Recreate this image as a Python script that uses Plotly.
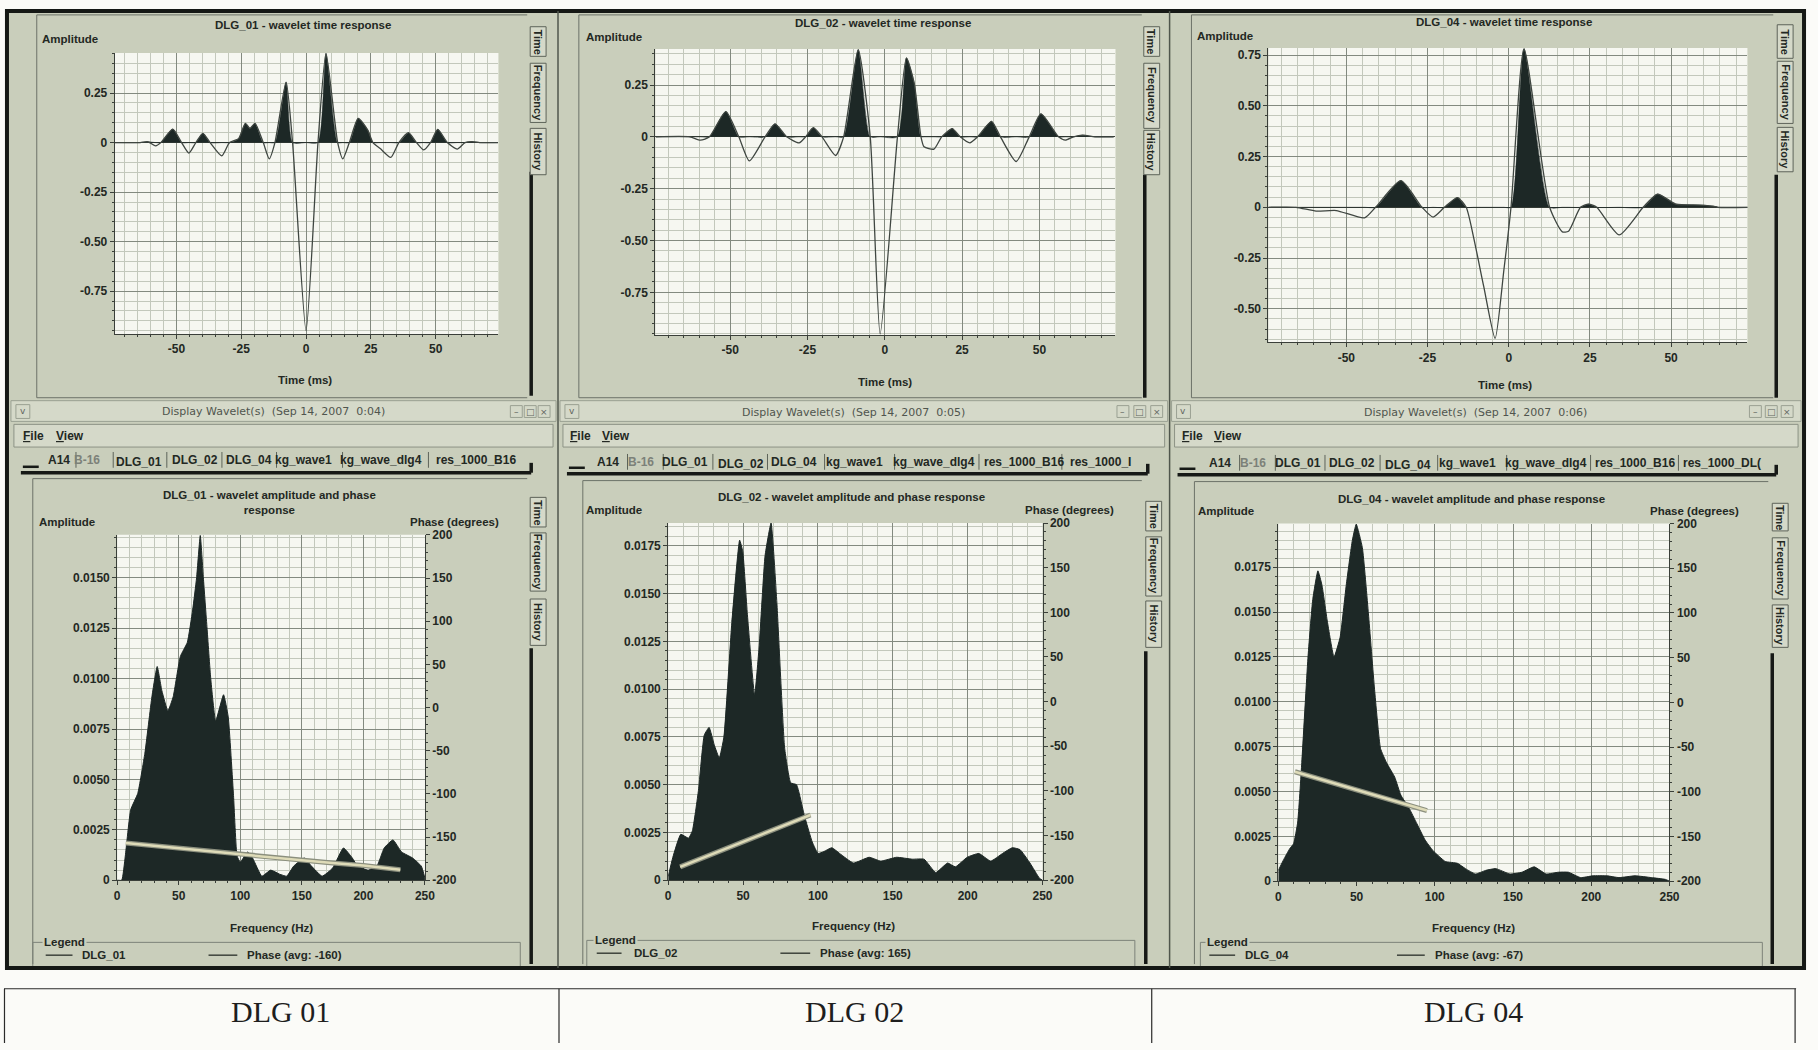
import numpy as np
import plotly.graph_objects as go

W, H = 1818, 1050

# ------------------------------------------------------------------ data
time_titles = ["DLG_01 - wavelet time response",
               "DLG_02 - wavelet time response",
               "DLG_04 - wavelet time response"]

t_dlg01 = [-74, -64, -61, -58, -56, -51.4, -48, -45.2, -42.5, -39.8, -37, -32.5, -29.5, -26,
           -23.4, -21.6, -19.7, -16.5, -14.2, -12, -7.7, -5.2, 0, 4.6, 7.7, 12.2, 14.2, 16.7,
           20.1, 23.8, 25.8, 28.6, 32.7, 35.8, 39.5, 42.6, 45.4, 48, 50.8, 54.5, 58.3, 61.3,
           64, 67, 74]
amp_dlg01 = [0, 0, 0.004, -0.017, 0, 0.068, 0, -0.053, 0, 0.047, 0, -0.067, 0, 0.02,
             0.097, 0.072, 0.097, 0, -0.082, 0, 0.305, 0, -0.95, 0, 0.45, 0, -0.082, 0,
             0.122, 0.063, 0, -0.03, -0.075, 0, 0.05, 0, -0.037, 0, 0.067, 0, -0.033, 0,
             0.005, 0, 0]

t_dlg02 = [-74, -63, -59.6, -56.7, -51.4, -47.2, -43.8, -38.7, -35.5, -31.7, -27.7, -25.6,
           -23.1, -20.3, -15.9, -13.3, -8.6, -4.7, -1.5, 4.1, 7.0, 9.5, 11.7, 12.7, 15.9,
           18.4, 21.8, 24.4, 27.5, 30.0, 34.5, 37.4, 42.5, 46.7, 50.5, 56.2, 58.4, 61, 64,
           68, 74]
amp_dlg02 = [0, 0, -0.016, 0, 0.122, 0, -0.116, 0, 0.063, 0, -0.029, 0,
             0.044, 0, -0.09, 0, 0.42, 0, -0.95, 0, 0.381, 0.26, 0, -0.048, -0.059,
             0, 0.04, 0, -0.029, 0, 0.075, 0, -0.119, 0, 0.111, 0, -0.016, 0, 0.008,
             0, 0]

t_dlg04 = [-74, -65.5, -59.3, -53.1, -44.4, -41, -33.2, -26.7, -23.3, -19.8, -15.8, -13.1,
           -10.8, -7.7, -4.2, -1.5, 0.7, 4.7, 12.6, 16.5, 18.4, 22.1, 24.6, 27.1, 34, 41.4,
           45.8, 51.4, 58.8, 63.2, 64.4, 74]
amp_dlg04 = [0, 0, -0.019, -0.016, -0.052, 0, 0.131, 0, -0.048, 0, 0.048, 0,
             -0.149, -0.39, -0.646, -0.31, 0, 0.78, 0, -0.121, -0.118, 0, 0.016, 0, -0.136, 0,
             0.065, 0.016, 0.011, 0.005, 0, 0]

freq_titles = ["DLG_01 - wavelet amplitude and phase<br>response",
               "DLG_02 - wavelet amplitude and phase response",
               "DLG_04 - wavelet amplitude and phase response"]

f_dlg01 = [0, 3.7, 6.6, 11, 16.7, 22.5, 28.2, 32.5, 36.3, 41.2, 45.5, 51.3, 57, 61.3, 64.5,
           67.5, 70, 73, 76, 80, 86.4, 90.2, 94.5, 97.4, 100, 106, 110, 117.5, 124.7, 131.9,
           137.7, 143.4, 152, 157.8, 166.5, 175, 183.8, 191, 195.3, 204, 211, 216.9, 224,
           231, 240, 247, 250]
spec_dlg01 = [0, 0, 0.0012, 0.0035, 0.0043, 0.0063, 0.0091, 0.0106, 0.0094, 0.0084, 0.0091,
              0.0111, 0.0118, 0.0134, 0.0150, 0.0171, 0.0150, 0.0125, 0.0100, 0.0079, 0.0092,
              0.0081, 0.0042, 0.0012, 0.0009, 0.0014, 0.0011, 0.0002, 0.0005, 0.0003, 0.0002,
              0.0007, 0.0011, 0.0007, 0.0002, 0.0006, 0.0016, 0.0011, 0.0007, 0.0005, 0.0007,
              0.0016, 0.0020, 0.0014, 0.0011, 0.0007, 0.0001]
pf_dlg01 = [7, 50, 97, 110, 130, 150, 175, 200, 230]
phase_dlg01 = [-157, -163, -170, -172, -175, -177, -180, -183, -188]

f_dlg02 = [0, 3.1, 8.4, 13.6, 16.2, 20.2, 24.1, 27.3, 30.7, 34.1, 37.2, 42.5, 47.7, 49.8,
           52.9, 57.7, 60.8, 64.7, 68.7, 72.6, 77.8, 81.8, 85.7, 90.9, 96.2, 100.1, 104,
           109.3, 114.5, 123.7, 134.2, 142, 152.5, 163, 170.9, 178.7, 186.6, 191.8, 199.7,
           207.5, 215.4, 223.3, 229.8, 235, 241.6, 248, 250]
spec_dlg02 = [0.0002, 0.0012, 0.0024, 0.0022, 0.0026, 0.0047, 0.0076, 0.0080, 0.0071, 0.0064,
              0.0075, 0.0135, 0.0178, 0.0172, 0.0139, 0.0097, 0.0123, 0.0170, 0.0187, 0.0145,
              0.0069, 0.0051, 0.0050, 0.0034, 0.0020, 0.0014, 0.0015, 0.0017, 0.0014, 0.0009,
              0.0012, 0.0010, 0.0012, 0.0011, 0.0011, 0.0004, 0.0009, 0.0007, 0.0012, 0.0014,
              0.0010, 0.0014, 0.0017, 0.0016, 0.0009, 0.0001, 0]
pf_dlg02 = [8, 95]
phase_dlg02 = [-185, -127]

f_dlg04 = [0, 3.4, 7.2, 9.8, 12.4, 15, 18.9, 22, 25.3, 27.9, 31.3, 35.6, 39.5, 43.4, 47.3,
           49.8, 53.7, 57.6, 61.5, 65.3, 69.2, 74.4, 78.3, 83.4, 88.6, 93.8, 98.9, 106.7,
           114.4, 119.6, 126, 132.5, 139, 148, 155.7, 163.5, 171.2, 179, 185.4, 193.2, 201,
           210, 217.7, 228, 238.4, 247.4, 250]
spec_dlg04 = [0.0006, 0.0012, 0.0018, 0.0021, 0.0033, 0.0066, 0.0124, 0.0157, 0.0173, 0.0165,
              0.0145, 0.0125, 0.0136, 0.0165, 0.0190, 0.0199, 0.0186, 0.0149, 0.0107, 0.0074,
              0.0066, 0.0058, 0.0048, 0.0041, 0.0032, 0.0023, 0.0017, 0.0011, 0.0010, 0.0007,
              0.0004, 0.0006, 0.0007, 0.0004, 0.0005, 0.0008, 0.0004, 0.0005, 0.0005, 0.0002,
              0.0003, 0.0003, 0.0002, 0.0003, 0.0002, 0.0001, 0]
pf_dlg04 = [10.6, 95]
phase_dlg04 = [-77.6, -121]

legend_names = ["DLG_01", "DLG_02", "DLG_04"]
phase_avg = [-160, 165, -67]
window_titles = ["Display Wavelet(s)  (Sep 14, 2007  0:04)",
                 "Display Wavelet(s)  (Sep 14, 2007  0:05)",
                 "Display Wavelet(s)  (Sep 14, 2007  0:06)"]
tab_labels = [
    ["A14", "B-16", "DLG_01", "DLG_02", "DLG_04", "kg_wave1", "kg_wave_dlg4", "res_1000_B16"],
    ["A14", "B-16", "DLG_01", "DLG_02", "DLG_04", "kg_wave1", "kg_wave_dlg4", "res_1000_B16", "res_1000_I"],
    ["A14", "B-16", "DLG_01", "DLG_02", "DLG_04", "kg_wave1", "kg_wave_dlg4", "res_1000_B16", "res_1000_DL("],
]
side_tabs = ["Time", "Frequency", "History"]
time_ticks = [-50, -25, 0, 25, 50]
amp_ticks_time = [[-0.75, -0.5, -0.25, 0, 0.25], [-0.75, -0.5, -0.25, 0, 0.25],
                  [-0.5, -0.25, 0, 0.25, 0.5, 0.75]]
freq_ticks = [0, 50, 100, 150, 200, 250]
amp_ticks_freq = [[0, 0.0025, 0.005, 0.0075, 0.01, 0.0125, 0.015],
                  [0, 0.0025, 0.005, 0.0075, 0.01, 0.0125, 0.015, 0.0175],
                  [0, 0.0025, 0.005, 0.0075, 0.01, 0.0125, 0.015, 0.0175]]
phase_ticks = [-200, -150, -100, -50, 0, 50, 100, 150, 200]
table_labels = ["DLG 01", "DLG 02", "DLG 04"]

times = [(t_dlg01, amp_dlg01), (t_dlg02, amp_dlg02), (t_dlg04, amp_dlg04)]
specs = [(f_dlg01, spec_dlg01, pf_dlg01, phase_dlg01),
         (f_dlg02, spec_dlg02, pf_dlg02, phase_dlg02),
         (f_dlg04, spec_dlg04, pf_dlg04, phase_dlg04)]

# ------------------------------------------------------------------ style / layout
UI = "Liberation Sans Narrow, Arial Narrow, Liberation Sans, sans-serif"
UI2 = "DejaVu Sans, Liberation Sans, sans-serif"
SERIF = "Liberation Serif, Times New Roman, serif"
BG = "#c9cebb"
BG_LIGHT = "#d5d9c9"
PLOT_BG = "#f6f7f1"
GRID_MAJ = "#838a80"
GRID_MIN = "#c3c8bc"
DARK = "#1d2826"
TEXT = "#232823"
AXIS = "#3a3f39"
FRAME = "#6c7268"

TIME_BOX = [(112.5, 499, 46.5, 331.5), (657, 1120.5, 42.5, 332.5), (1274.5, 1757, 41.5, 340)]
TIME_XR = [(-73.8, 74.2), (-74.2, 74.6), (-74.0, 73.5)]
TIME_YR = [(-0.967, 0.453), (-0.956, 0.424), (-0.666, 0.785)]
FREQ_BOX = [(115, 425, 535, 885), (670, 1047, 523, 885), (1284.5, 1678.5, 523.5, 886)]
FREQ_YTOP = [0.01713, 0.0187, 0.01994]

shapes, annotations = [], []


def px(x):
    return x / W


def py(y):
    return 1 - y / H


def rect(x0, y0, x1, y1, fill="rgba(0,0,0,0)", line=None, lw=1):
    shapes.append(dict(type="rect", xref="paper", yref="paper", x0=px(x0), x1=px(x1),
                       y0=py(y1), y1=py(y0), fillcolor=fill,
                       line=dict(color=line or "rgba(0,0,0,0)", width=lw if line else 0),
                       layer="below"))


def line(x0, y0, x1, y1, color=FRAME, w=1):
    shapes.append(dict(type="line", xref="paper", yref="paper", x0=px(x0), x1=px(x1),
                       y0=py(y0), y1=py(y1), line=dict(color=color, width=w), layer="below"))


def text(x, y, s, size=12, color=TEXT, bold=True, anchor="center", angle=0, family=UI, bg=None):
    a = dict(x=px(x), y=py(y), xref="paper", yref="paper", text=s, showarrow=False,
             xanchor=anchor, yanchor="middle", textangle=angle,
             font=dict(family=family, size=size, color=color, weight="bold" if bold else "normal"))
    if bg:
        a["bgcolor"] = bg
    annotations.append(a)


# screenshot background & frame
rect(4, 4, 1814, 974, fill=BG, line="#151815", lw=4)

# columns
COLS = [dict(l=8, r=557), dict(l=561, r=1173), dict(l=1177, r=1811)]
for c in COLS:
    rect(c["l"], 399, c["r"], 420, fill=BG_LIGHT, line="#9aa092", lw=1)   # window title bar
    rect(c["l"] + 3, 423, c["r"] - 3, 446, fill=BG_LIGHT, line="#8d9386", lw=1)  # menu bar
line(559, 4, 559, 974, "#4f564c", 1.5)
line(1175, 4, 1175, 974, "#4f564c", 1.5)

# top inner frames
TOP_FRAME = [(34, 528), (580, 1147), (1197, 1783)]
for (l, r) in TOP_FRAME:
    line(l, 8, l, 396, FRAME, 1)
    line(l, 396, r, 396, FRAME, 1)
    line(l, 8, r, 8, FRAME, 1)
# bottom inner frames
BOT_FRAME = [(30, 478, 528), (584, 480, 1147), (1200, 481, 1778)]
for (l, t, r) in BOT_FRAME:
    line(l, t, l, 970, FRAME, 1)
    line(l, t, r, t, FRAME, 1)

# dark tab bars
TOP_BAR = [(532, 167, 394), (1150, 170, 396), (1786, 170, 396)]
BOT_BAR = [(532, 650, 970), (1151, 653, 970), (1782, 655, 970)]
for (x, y0, y1) in TOP_BAR + BOT_BAR:
    line(x, y0, x, y1, "#161916", 3.5)

# vertical side tabs
TOP_TABS = [(539, [(20, 50), (57, 117), (123, 170)]),
            (1157, [(20, 50), (57, 123), (125, 170)]),
            (1795, [(18, 52), (55, 118), (122, 167)])]
BOT_TABS = [(539, [(497, 527), (533, 592), (600, 647)]),
            (1159, [(501, 531), (537, 597), (602, 649)]),
            (1790, [(503, 531), (538, 600), (606, 649)])]
for (x, spans) in TOP_TABS + BOT_TABS:
    for name, (y0, y1) in zip(side_tabs, spans):
        rect(x - 8, y0, x + 8, y1, fill=BG_LIGHT, line="#5d6359", lw=1)
        text(x, (y0 + y1) / 2, name, size=11, angle=90)

# window title bars
WT_POS = [(272, 410), (857, 411), (1483, 411)]
BTN = [(517, 531, 545), (1128, 1145, 1162), (1765, 1781, 1797)]
CHEV = [20, 573, 1189]
for i in range(3):
    text(WT_POS[i][0], WT_POS[i][1], window_titles[i], size=11, color="#50554e", bold=False, family=UI2)
    for bx, sym in zip(BTN[i], ["–", "□", "×"]):
        rect(bx - 6, 404, bx + 6, 416, fill=BG_LIGHT, line="#9aa092", lw=1)
        text(bx, 410, sym, size=9, color="#60655e", bold=False, family=UI2)
    rect(CHEV[i] - 7, 403, CHEV[i] + 7, 417, fill=BG_LIGHT, line="#9aa092", lw=1)
    text(CHEV[i], 409, "v", size=9, color="#60655e", bold=False, family=UI2)

# menu
MENU = [(31, 67), (582, 617), (1198, 1234)]
for (fx, vx) in MENU:
    text(fx, 435, "<u>F</u>ile", size=12)
    text(vx, 435, "<u>V</u>iew", size=12)

# tab strips
TAB_X = [[56, 85, 137, 193, 248, 303, 381, 476],
         [609, 643, 687, 743, 797, 858, 938, 1028, 1105],
         [1226, 1259, 1304, 1359, 1415, 1475, 1554, 1644, 1731]]
TAB_Y = [459, 461, 462]
TAB_LINE = [(18, 472, 532), (568, 473, 1153), (1183, 474, 1786)]
for i in range(3):
    xs = TAB_X[i]
    for j, lab in enumerate(tab_labels[i]):
        yy = TAB_Y[i] + (2 if lab == legend_names[i] else 0)
        text(xs[j], yy, lab, size=12, color="#7c8179" if lab == "B-16" else TEXT)
        if j > 0:
            sx = (xs[j - 1] + xs[j]) / 2 + (3 if j == 1 else 0)
            line(sx, TAB_Y[i] - 8, sx, TAB_Y[i] + 8, "#5d6359", 1)
    l, yl, r = TAB_LINE[i]
    line(l, yl, r, yl, "#161916", 3.5)
    line(r, yl - 10, r, yl, "#161916", 3.5)
    line(l + 2, yl - 6, l + 18, yl - 6, "#161916", 2.5)

# top-plot texts
TT_POS = [(302, 18.5), (886, 16.5), (1512, 15)]
AMP_T = [(67, 32), (615, 30), (1231, 29)]
TIME_LAB = [(304, 378), (888, 380), (1513, 383)]
for i in range(3):
    text(TT_POS[i][0], TT_POS[i][1], time_titles[i], size=11.5)
    text(AMP_T[i][0], AMP_T[i][1], "Amplitude", size=11.5)
    text(TIME_LAB[i][0], TIME_LAB[i][1], "Time (ms)", size=11.5)

# bottom-plot texts
FT_POS = [(268, 502), (855, 497), (1479, 499)]
AMP_F = [(64, 522), (615, 509.5), (1232, 511)]
PH_F = [(455, 522), (1074, 509.5), (1704, 511)]
FREQ_LAB = [(270, 933), (857, 931), (1481, 933)]
for i in range(3):
    text(FT_POS[i][0], FT_POS[i][1], freq_titles[i], size=11.5)
    text(AMP_F[i][0], AMP_F[i][1], "Amplitude", size=11.5)
    text(PH_F[i][0], PH_F[i][1], "Phase (degrees)", size=11.5)
    text(FREQ_LAB[i][0], FREQ_LAB[i][1], "Frequency (Hz)", size=11.5)

# legends
LEG = [dict(gl=30, gr=521, gy=948, lx=62, iy=961, l1=(43, 70), t1=78, l2=(207, 236), t2=244),
       dict(gl=588, gr=1140, gy=946, lx=617, iy=959, l1=(598, 623), t1=634, l2=(783, 813), t2=821),
       dict(gl=1206, gr=1772, gy=948, lx=1233, iy=961, l1=(1215, 1241), t1=1249, l2=(1404, 1432), t2=1440)]
for i, g in enumerate(LEG):
    line(g["gl"], g["gy"], g["gr"], g["gy"], "#7d8379", 1)
    line(g["gl"], g["gy"], g["gl"], 972, "#7d8379", 1)
    line(g["gr"], g["gy"], g["gr"], 972, "#7d8379", 1)
    text(g["lx"], g["gy"], "Legend", size=11.5, bg=BG)
    line(g["l1"][0], g["iy"], g["l1"][1], g["iy"], "#3d433b", 1.5)
    text(g["t1"], g["iy"], legend_names[i], size=11.5, anchor="left")
    line(g["l2"][0], g["iy"], g["l2"][1], g["iy"], "#3d433b", 1.5)
    text(g["t2"], g["iy"], "Phase (avg: %d)" % phase_avg[i], size=11.5, anchor="left")

# plot backgrounds
for (x0, x1, y0, y1) in TIME_BOX + FREQ_BOX:
    rect(x0, y0, x1, y1, fill=PLOT_BG)

# bottom table
line(1, 995, 1806, 995, "#2a2a2a", 1.2)
for x in [1.5, 560, 1157, 1805]:
    line(x, 995, x, 1050, "#2a2a2a", 1.2)
TBL_X = [280, 858, 1481]
for i in range(3):
    text(TBL_X[i], 1018, table_labels[i], size=30, color="#1e1e1e", bold=False, family=SERIF)

# ------------------------------------------------------------------ axes
TICKFONT = dict(family=UI, size=12, color=TEXT, weight="bold")


def base_axis(**kw):
    d = dict(showline=True, linecolor=AXIS, linewidth=1, ticks="outside", ticklen=4,
             tickcolor=AXIS, tickwidth=1, tickfont=TICKFONT, showgrid=True,
             gridcolor=GRID_MAJ, gridwidth=1, zeroline=False, fixedrange=True)
    d.update(kw)
    return d


def minor(dt):
    return dict(tick0=0, dtick=dt, showgrid=True, gridcolor=GRID_MIN, gridwidth=1,
                ticks="outside", ticklen=2, tickcolor=AXIS)


def lab(v, nd):
    return "0" if v == 0 else f"{v:.{nd}f}"


layout_axes = {}
fig = go.Figure()

for i in range(3):
    n = i + 1
    x0, x1, y0, y1 = TIME_BOX[i]
    xs = "" if n == 1 else str(n)
    layout_axes["xaxis" + xs] = base_axis(
        domain=[px(x0), px(x1)], range=list(TIME_XR[i]), anchor="y" + xs,
        tickmode="array", tickvals=time_ticks, ticktext=[str(v) for v in time_ticks],
        minor=minor(5))
    layout_axes["yaxis" + xs] = base_axis(
        domain=[py(y1), py(y0)], range=list(TIME_YR[i]), anchor="x" + xs,
        tickmode="array", tickvals=amp_ticks_time[i],
        ticktext=[lab(v, 2) for v in amp_ticks_time[i]],
        minor=minor(0.05), zeroline=True, zerolinecolor="#3b413a", zerolinewidth=1.2)
    t, a = times[i]
    fig.add_trace(go.Scatter(x=t, y=np.maximum(np.array(a), 0), mode="lines",
                             fill="tozeroy", fillcolor=DARK,
                             line=dict(color=DARK, width=0.5, shape="spline", smoothing=0.6),
                             xaxis="x" + xs, yaxis="y" + xs, hoverinfo="skip"))
    fig.add_trace(go.Scatter(x=t, y=a, mode="lines",
                             line=dict(color="#3f4641", width=1.3, shape="spline", smoothing=0.6),
                             xaxis="x" + xs, yaxis="y" + xs))

for i in range(3):
    n = i + 4
    pn = i + 7
    x0, x1, y0, y1 = FREQ_BOX[i]
    layout_axes["xaxis%d" % n] = base_axis(
        domain=[px(x0), px(x1)], range=[0, 250], anchor="y%d" % n,
        tickmode="array", tickvals=freq_ticks, ticktext=[str(v) for v in freq_ticks],
        minor=minor(10))
    layout_axes["yaxis%d" % n] = base_axis(
        domain=[py(y1), py(y0)], range=[0, FREQ_YTOP[i]], anchor="x%d" % n,
        tickmode="array", tickvals=amp_ticks_freq[i],
        ticktext=[lab(v, 4) for v in amp_ticks_freq[i]], minor=minor(0.0005))
    layout_axes["yaxis%d" % pn] = base_axis(
        range=[-200, 200], anchor="x%d" % n, overlaying="y%d" % n, side="right",
        tickmode="array", tickvals=phase_ticks, ticktext=[str(v) for v in phase_ticks],
        showgrid=False, minor=dict(tick0=0, dtick=10, ticks="outside", ticklen=2,
                                   tickcolor=AXIS, showgrid=False))
    f, s, pf, ph = specs[i]
    fig.add_trace(go.Scatter(x=f, y=s, mode="lines", fill="tozeroy", fillcolor=DARK,
                             line=dict(color=DARK, width=1, shape="spline", smoothing=0.4),
                             xaxis="x%d" % n, yaxis="y%d" % n))
    fig.add_trace(go.Scatter(x=pf, y=ph, mode="lines",
                             line=dict(color="#8b8f7e", width=5),
                             xaxis="x%d" % n, yaxis="y%d" % pn))
    fig.add_trace(go.Scatter(x=pf, y=ph, mode="lines",
                             line=dict(color="#dedbb8", width=2.5),
                             xaxis="x%d" % n, yaxis="y%d" % pn))

fig.update_layout(width=W, height=H, margin=dict(l=0, r=0, t=0, b=0),
                  paper_bgcolor="#fbfbf8", plot_bgcolor="rgba(0,0,0,0)",
                  showlegend=False, shapes=shapes, annotations=annotations,
                  **layout_axes)

fig.write_html("out.html", config={"displayModeBar": False})
